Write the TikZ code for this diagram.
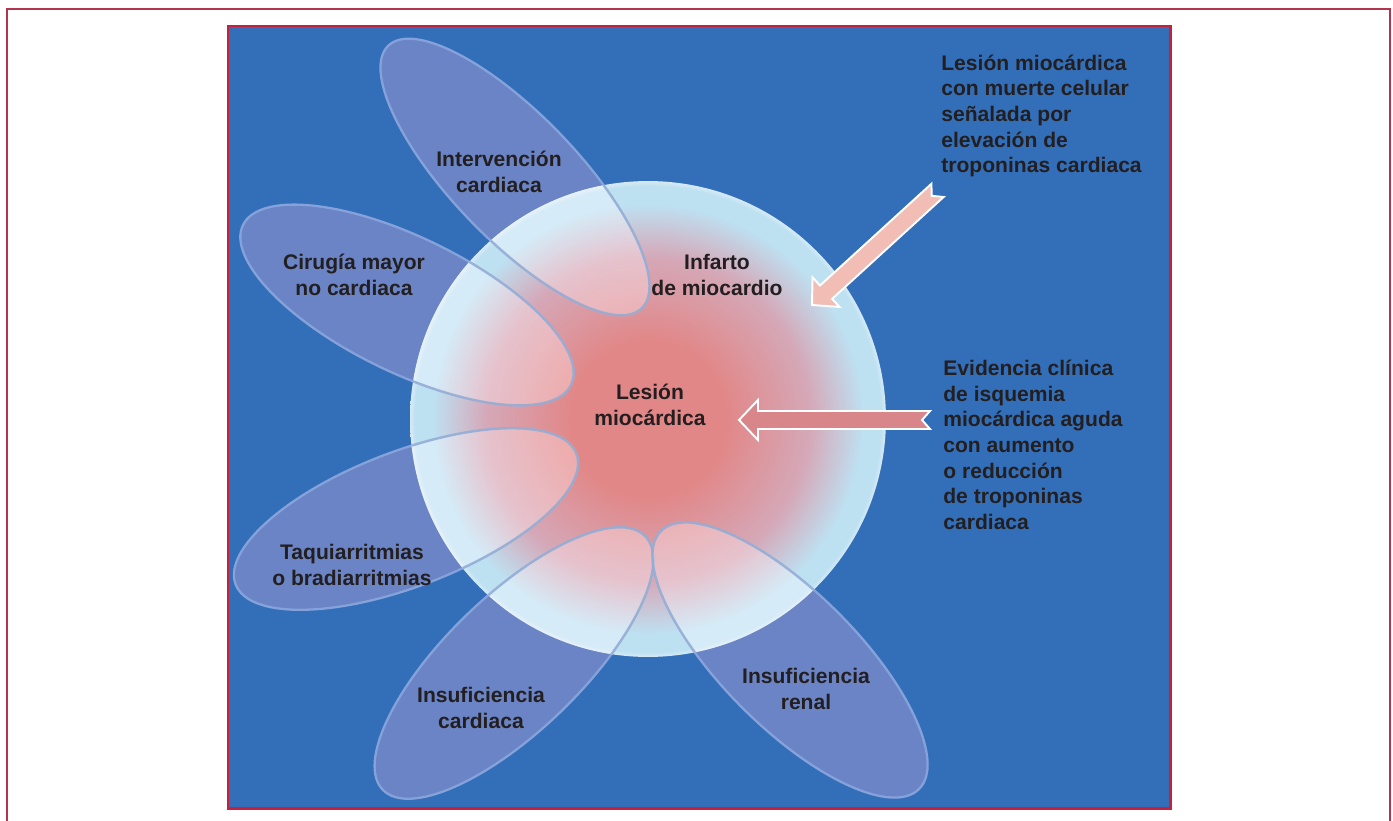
\documentclass[tikz,border=0pt]{standalone}
\usepackage{fontspec}
\setmainfont{Liberation Sans}
\usetikzlibrary{shapes.geometric}
\definecolor{cFrame}{HTML}{B3344F}
\definecolor{cPanelRim}{HTML}{C5213F}
\definecolor{cBlue}{HTML}{336FB9}
\definecolor{cPetal}{HTML}{6A84C6}
\definecolor{cPetalRim}{HTML}{86A2DA}
\definecolor{cPetalLine}{HTML}{93ACD4}
\definecolor{cLesRed}{HTML}{FF8B7F}
\definecolor{cLesPink}{HTML}{F0B2B8}
\definecolor{cLesCyan}{HTML}{D5F4FC}
\definecolor{cLesRim}{HTML}{F2FFFF}
\definecolor{cArrDark}{HTML}{D8868A}
\definecolor{cArrLight}{HTML}{F1BDB5}
\definecolor{cInk}{HTML}{231F20}
\pgfdeclareradialshading{lesionball}{\pgfpoint{0bp}{0bp}}{%
  color(0bp)=(cLesRed); color(8bp)=(cLesRed); color(17bp)=(cLesPink);
  color(22.6bp)=(cLesCyan); color(24.5bp)=(cLesCyan); color(25bp)=(cLesRim);
  color(50bp)=(cLesRim)}
\tikzset{
  pics/blockarrow/.style={code={
    \path[pic actions] (0,0) -- (19,-20) -- (19,-9) -- (#1,-9) -- ({#1-8},0)
      -- (#1,9) -- (19,9) -- (19,20) -- cycle;}}
}

\begin{document}
\begin{tikzpicture}[x=0.02cm, y=-0.02cm,
  petalshape/.style={ellipse, inner sep=0pt, minimum width=7.3cm, minimum height=2.7cm},
  petal/.style={petalshape, fill=cPetal, draw=cPetalRim, line width=1.3pt},
  petalhi/.style={petalshape, fill=white, fill opacity=0.28,
                  draw=cPetalLine, draw opacity=0.9, line width=1.4pt},
  lbl/.style={font=\fontsize{12}{14.6}\selectfont\bfseries, text=cInk,
              align=center, inner sep=0pt},
  side/.style={lbl, align=left, anchor=west},
  blk/.style={draw=white, line width=1.1pt},
]
\useasboundingbox (0,0) rectangle (1393,821);

% ---- frame and panel ----
\draw[cFrame, line width=0.8pt] (7,821) -- (7,9) -- (1390,9) -- (1390,821);
\fill[cBlue] (228,26) rectangle (1170,808);
\draw[cPanelRim, line width=1.7pt] (228,26) rectangle (1170,808);

% ---- petals ----
\node[petal, minimum height=2.5cm, rotate=-46] (pInt) at (515,177) {};
\node[petal, rotate=-26] (pCir) at (407,305) {};
\node[petal, rotate=21] (pTaq) at (406,519) {};
\node[petal, rotate=44] (pIcar) at (514,663) {};
\node[petal, rotate=-45] (pRen) at (790,660) {};

% ---- central lesion (see-through) ----
\coordinate (ctr) at (648,419);
\shade[shading=lesionball, opacity=0.86] (ctr) circle (4.76cm);

% petals seen through the ball
\begin{scope}
  \clip (ctr) circle (4.76cm);
  \node[petalhi, minimum height=2.5cm, rotate=-46] (pIntHi) at (pInt) {};
  \node[petalhi, rotate=-26] (pCirHi) at (pCir) {};
  \node[petalhi, rotate=21] (pTaqHi) at (pTaq) {};
  \node[petalhi, rotate=44] (pIcarHi) at (pIcar) {};
  \node[petalhi, rotate=-45] (pRenHi) at (pRen) {};
\end{scope}

% ---- labels ----
\node[lbl] (tInt) at (499,172) {Intervención\\cardiaca};
\node[lbl] (tCir) at (354,275) {Cirugía mayor\\no cardiaca};
\node[lbl] (tInf) at (717,275) {Infarto\\de miocardio};
\node[lbl] (tLes) at (650,405) {Lesión\\miocárdica};
\node[lbl] (tTaq) at (352,565) {Taquiarritmias\\o bradiarritmias};
\node[lbl] (tIcar) at (481,708) {Insuficiencia\\cardiaca};
\node[lbl] (tRen) at (806,689) {Insuficiencia\\renal};

\node[side] (tMuerte) at (941,116)
  {Lesión miocárdica\\con muerte celular\\señalada por\\elevación de\\troponinas cardiaca};
\node[side] (tClin) at (943,445)
  {Evidencia clínica\\de isquemia\\miocárdica aguda\\con aumento\\o reducción\\de troponinas\\cardiaca};

% ---- block arrows ----
\coordinate (tipInf) at (812,305);
\coordinate (tipLes) at (739,420);
\pic[blk, fill=cArrLight, rotate=42.4] at (tipInf) {blockarrow=170};
\pic[blk, fill=cArrDark] at (tipLes) {blockarrow=191};

\end{tikzpicture}
\end{document}
